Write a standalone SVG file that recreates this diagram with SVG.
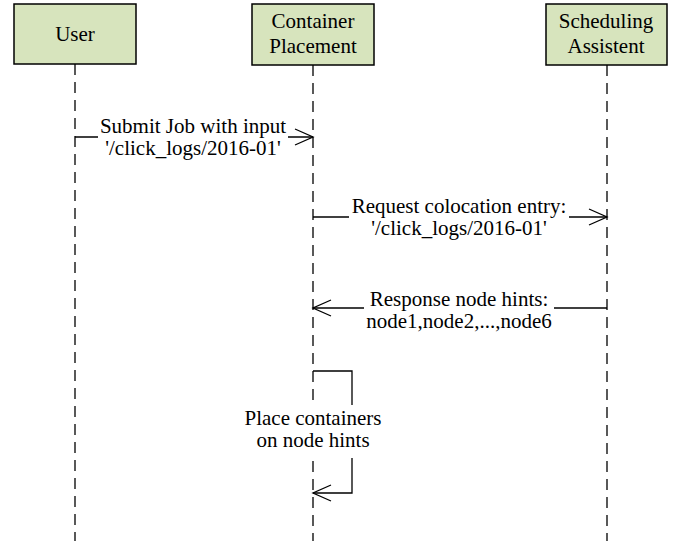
<svg xmlns="http://www.w3.org/2000/svg" width="673" height="544" viewBox="0 0 673 544">
<style>
.box{fill:#d7e4bd;stroke:#000;stroke-width:1.5}
.t{font-family:'Liberation Serif','Times New Roman',Tinos,'Noto Serif','DejaVu Serif','Nimbus Roman','FreeSerif',Times,serif;font-size:21px;fill:#000;text-anchor:middle}
.life{stroke:#000;stroke-width:1.3;stroke-dasharray:11 7;fill:none}
.ln{stroke:#000;stroke-width:1.3;fill:none}
.bg{fill:#fff}
</style>
<rect width="673" height="544" fill="#fff"/>
<g id="lifelines">
<line class="life" x1="75" y1="64" x2="75" y2="541"/>
<line class="life" x1="313" y1="65" x2="313" y2="541"/>
<line class="life" x1="607" y1="65" x2="607" y2="541"/>
</g>
<g id="user">
<rect class="box" x="14" y="4" width="122" height="60"/>
<text class="t" x="75" y="41">User</text>
</g>
<g id="container-placement">
<rect class="box" x="252" y="4" width="122" height="61"/>
<text class="t" x="313" y="28">Container</text>
<text class="t" x="313" y="53">Placement</text>
</g>
<g id="scheduling-assistent">
<rect class="box" x="546" y="4" width="121" height="61"/>
<text class="t" x="606" y="28">Scheduling</text>
<text class="t" x="606" y="53">Assistent</text>
</g>
<g id="connectors">
<line class="ln" x1="75" y1="137" x2="313" y2="137"/>
<path class="ln" d="M295,129 L313,137 L295,145"/>
<line class="ln" x1="313" y1="217" x2="607" y2="217"/>
<path class="ln" d="M589,209 L607,217 L589,225"/>
<line class="ln" x1="607" y1="308" x2="313" y2="308"/>
<path class="ln" d="M331,300 L313,308 L331,316"/>
<path class="ln" d="M313,371 H352 V493 H313"/>
<path class="ln" d="M331,485 L313,493 L331,501"/>
</g>
<g id="labels">
<rect class="bg" x="98" y="116" width="190" height="42"/>
<text class="t" x="193" y="133">Submit Job with input</text>
<text class="t" x="193" y="155">'/click_logs/2016-01'</text>
<rect class="bg" x="349" y="196" width="220" height="44"/>
<text class="t" x="459" y="213">Request colocation entry:</text>
<text class="t" x="459" y="235">'/click_logs/2016-01'</text>
<rect class="bg" x="364" y="288" width="190" height="44"/>
<text class="t" x="459" y="306">Response node hints:</text>
<text class="t" x="459" y="328">node1,node2,...,node6</text>
<rect class="bg" x="243" y="405" width="140" height="53"/>
<text class="t" x="313" y="425">Place containers</text>
<text class="t" x="313" y="447">on node hints</text>
</g>
</svg>
